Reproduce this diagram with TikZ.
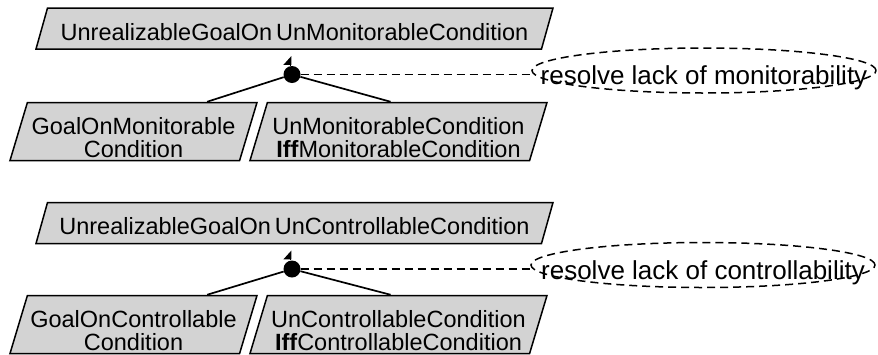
\documentclass[tikz,border=0pt]{standalone}
\usepackage{fontspec}
\setmainfont{Liberation Sans}
\usetikzlibrary{shapes.geometric,arrows.meta,calc}
\definecolor{goalgray}{RGB}{211,211,211}
% tall invisible strut on a first line, to set two-line labels a little lower
\newcommand{\lowertwolines}{\rule{0pt}{29pt}}
\begin{document}
\begin{tikzpicture}[x=1pt,y=-1pt,
  goal/.style={trapezium, draw=black, fill=goalgray, line width=1.5pt,
    trapezium stretches body, inner sep=0pt, align=center,
    font=\fontsize{23.5}{22.5}\selectfont},
  topgoal/.style={goal, trapezium left angle=63.4, trapezium right angle=116.6,
    minimum width=517pt, minimum height=41pt, text height=23pt, text depth=0pt},
  subgoal/.style={goal, trapezium left angle=71.4, trapezium right angle=108.6,
    minimum height=58pt},
  refine/.style={circle, fill=black, minimum size=17pt, inner sep=0pt},
  link/.style={line width=1.7pt},
  dashlink/.style={line width=1.7pt, dash pattern=on 8pt off 5pt},
  obstacle/.style={ellipse, draw=black, line width=1.5pt, dash pattern=on 8pt off 5pt,
    minimum width=344pt, minimum height=45pt, inner sep=0pt,
    text height=28pt, text depth=0pt, font=\fontsize{26}{28}\selectfont},
  uparrow/.style={link, -{Triangle[left, length=8pt, width=14pt]}}
]
\useasboundingbox (0,0) rectangle (878,354);

% ---- monitorability refinement ----
\node[topgoal] (pm) at (294.5,28.5) {UnrealizableGoalOn\,UnMonitorableCondition};
\node[subgoal, minimum width=247pt] (lm) at (133.5,131.5)
  {\lowertwolines GoalOnMonitorable\\Condition};
\node[subgoal, minimum width=297pt] (rm) at (398.5,131.5)
  {\lowertwolines UnMonitorableCondition\\\textbf{Iff}MonitorableCondition};
\node[refine] (cm) at (292,74.5) {};
\coordinate (tm) at (290.5,56);
\node[obstacle] (om) at (704,70.5) {\makebox[0pt]{resolve lack of monitorability}};

\draw[uparrow] (tm |- cm.north) -- (tm);
\draw[link] (cm) -- ($(lm.top left corner)!0.78!(lm.top right corner)$);
\draw[link] (cm) -- ($(rm.top left corner)!0.44!(rm.top right corner)$);
\draw[dashlink] (cm) -- (cm -| om.west);

% ---- controllability refinement ----
\node[topgoal] (pc) at (294.5,223) {UnrealizableGoalOn\,UnControllableCondition};
\node[subgoal, minimum width=247pt] (lc) at (133.5,324.5)
  {\lowertwolines GoalOnControllable\\Condition};
\node[subgoal, minimum width=297pt] (rc) at (398.5,324.5)
  {\lowertwolines UnControllableCondition\\\textbf{Iff}ControllableCondition};
\node[refine] (cc) at (292,269) {};
\coordinate (tc) at (290.5,250.5);
\node[obstacle] (oc) at (703,265) {\makebox[0pt]{resolve lack of controllability}};

\draw[uparrow] (tc |- cc.north) -- (tc);
\draw[link] (cc) -- ($(lc.top left corner)!0.78!(lc.top right corner)$);
\draw[link] (cc) -- ($(rc.top left corner)!0.44!(rc.top right corner)$);
\draw[dashlink] (cc) -- (cc -| oc.west);
\end{tikzpicture}
\end{document}
